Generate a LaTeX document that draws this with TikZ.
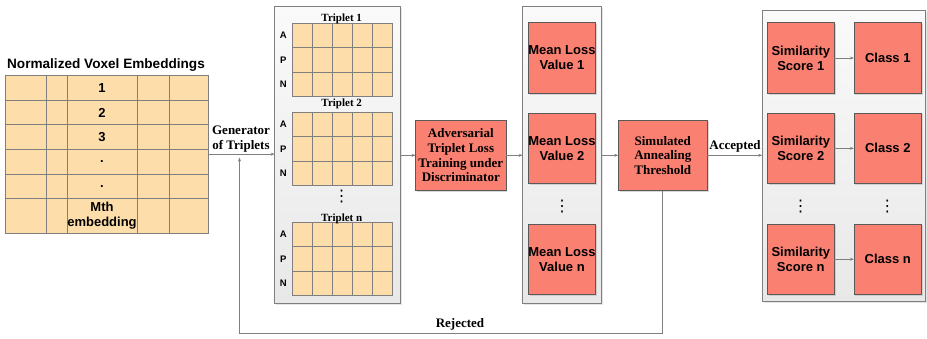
\documentclass[tikz,border=0pt]{standalone}
\usepackage{fontspec}
\setmainfont{Liberation Serif}
\setsansfont{Liberation Sans}
\newfontfamily\symfont{DejaVu Sans}
\usetikzlibrary{arrows.meta,shadows,calc}
\definecolor{salmonbox}{HTML}{FA8072}
\definecolor{peach}{HTML}{FDDEAA}
\definecolor{edgegray}{HTML}{7F7F7F}
\definecolor{boxedge}{HTML}{595959}
\begin{document}
\begin{tikzpicture}[x=1pt,y=-1pt,
  sansb/.style={font=\fontsize{13}{15}\selectfont\sffamily\bfseries},
  headb/.style={font=\fontsize{13.6}{15}\selectfont\sffamily\bfseries},
  serifb/.style={font=\fontsize{13}{14.7}\selectfont\rmfamily\bfseries},
  tlab/.style={font=\fontsize{11}{12}\selectfont\rmfamily\bfseries},
  rowlab/.style={font=\fontsize{9.5}{10}\selectfont\sffamily\bfseries},
  vdot/.style={font=\fontsize{16}{17}\selectfont\symfont, inner sep=0pt},
  panel/.style={draw=edgegray, line width=0.8pt, top color=black!2, bottom color=black!9,
    drop shadow={shadow xshift=1.5pt,shadow yshift=-1.5pt,fill=black!20},
    inner sep=0pt, outer sep=0pt},
  redbox/.style={draw=boxedge, line width=0.8pt, fill=salmonbox,
    drop shadow={shadow xshift=1.2pt,shadow yshift=-1.2pt,fill=black!30},
    inner sep=0pt, outer sep=0pt, align=center, text=black},
  cellbox/.style={draw=edgegray, line width=0.8pt, fill=peach, inner sep=0pt, outer sep=0pt},
  gridline/.style={draw=edgegray, line width=0.8pt},
  link/.style={draw=edgegray, line width=0.7pt, -{Stealth[length=4pt,width=3pt]}},
]
\useasboundingbox (0,0) rectangle (927,338);

% ---- input embeddings table ----
\node[headb] (title) at (106,65) {Normalized Voxel Embeddings};
\node[cellbox, minimum width=203pt, minimum height=158.3pt, anchor=north west] (emb) at (5.7,75) {};
\foreach \x in {46,67,137,169} \draw[gridline] (\x,75) -- (\x,233.3);
\foreach \y in {100.7,124.7,149.3,174,198.7} \draw[gridline] (5.7,\y) -- (208.7,\y);
\node[sansb] (e1) at (102,88) {1};
\node[sansb] (e2) at (102,112.7) {2};
\node[sansb] (e3) at (102,137) {3};
\node[sansb] (e4) at (102,161.7) {.};
\node[sansb] (e5) at (102,186.3) {.};
\node[sansb, align=center] (em) at (102,216) {Mth\\embedding};

% ---- triplet panel ----
\node[panel, minimum width=125.3pt, minimum height=296.6pt] (tp) at (337.35,155) {};
\foreach \g/\top in {t1/23.3, t2/112.3, tn/222.3} {
  \node[cellbox, minimum width=100.4pt, minimum height=72.9pt, anchor=north west] (\g) at (292.3,\top) {};
  \foreach \i in {1,...,4} \draw[gridline] ($(\g.north west)+(\i*20.08,0)$) -- ++(0,72.9);
  \foreach \j in {1,2} \draw[gridline] ($(\g.north west)+(0,\j*24.3)$) -- ++(100.4,0);
  \foreach \l [count=\k from 0] in {A,P,N}
    \node[rowlab] (\g-\l) at ($(\g.north west)+(-9,12.15+\k*24.3)$) {\l};
}
\node[tlab] (lab1) at (341.7,19) {Triplet 1};
\node[tlab] (lab2) at (341.7,103.5) {Triplet 2};
\node[tlab] (labn) at (341.7,218.5) {Triplet n};
\node[vdot] (tdots) at (341.7,197) {⋮};

% ---- adversarial training ----
\node[redbox, serifb, minimum width=90.3pt, minimum height=70.7pt] (adv) at (460.8,155.3)
  {Adversarial\\Triplet Loss\\Training under\\Discriminator};

% ---- mean loss panel ----
\node[panel, minimum width=79pt, minimum height=296.6pt] (mp) at (562.2,155) {};
\foreach \n/\y/\t in {m1/58/1, m2/148.3/2, mn/259.2/n}
  \node[redbox, sansb, minimum width=67.4pt, minimum height=70.6pt] (\n) at (562,\y) {Mean Loss\\Value \t};
\node[vdot] (mdots) at (562,206.5) {⋮};

% ---- simulated annealing ----
\node[redbox, serifb, minimum width=89pt, minimum height=70.7pt] (sa) at (662.8,155.3)
  {Simulated\\Annealing\\Threshold};

% ---- similarity / class panel ----
\node[panel, minimum width=163.2pt, minimum height=291pt] (rp) at (843.9,156.2) {};
\foreach \n/\y/\t in {1/58/1, 2/148.3/2, n/259.2/n} {
  \node[redbox, sansb, minimum width=67pt, minimum height=70.6pt] (s\n) at (800.8,\y) {Similarity\\Score \t};
  \node[redbox, sansb, minimum width=67.7pt, minimum height=70.6pt] (c\n) at (887.8,\y) {Class \t};
  \draw[link] (s\n.east) -- (c\n.west);
}
\node[vdot] (sdots) at (800.7,206.5) {⋮};
\node[vdot] (cdots) at (887.3,206.5) {⋮};

% ---- connectors ----
\draw[link] (emb.east) -- (emb.east -| tp.west);
\node[serifb, align=center] (gen) at (241,139) {Generator\\of Triplets};
\draw[link] (tp.east |- adv.west) -- (adv.west);
\draw[link] (adv.east) -- (adv.east -| mp.west);
\draw[link] (mp.east |- sa.west) -- (sa.west);
\draw[link] (sa.east) -- (sa.east -| rp.west);
\node[serifb] (acc) at (735,146) {Accepted};

\coordinate (bot) at (239.5,333);
\coordinate (fb) at (239.5,157.5);
\draw[link] (sa.south) |- (bot) -- (fb);
\node[serifb] (rej) at (460,324) {Rejected};
\end{tikzpicture}
\end{document}
